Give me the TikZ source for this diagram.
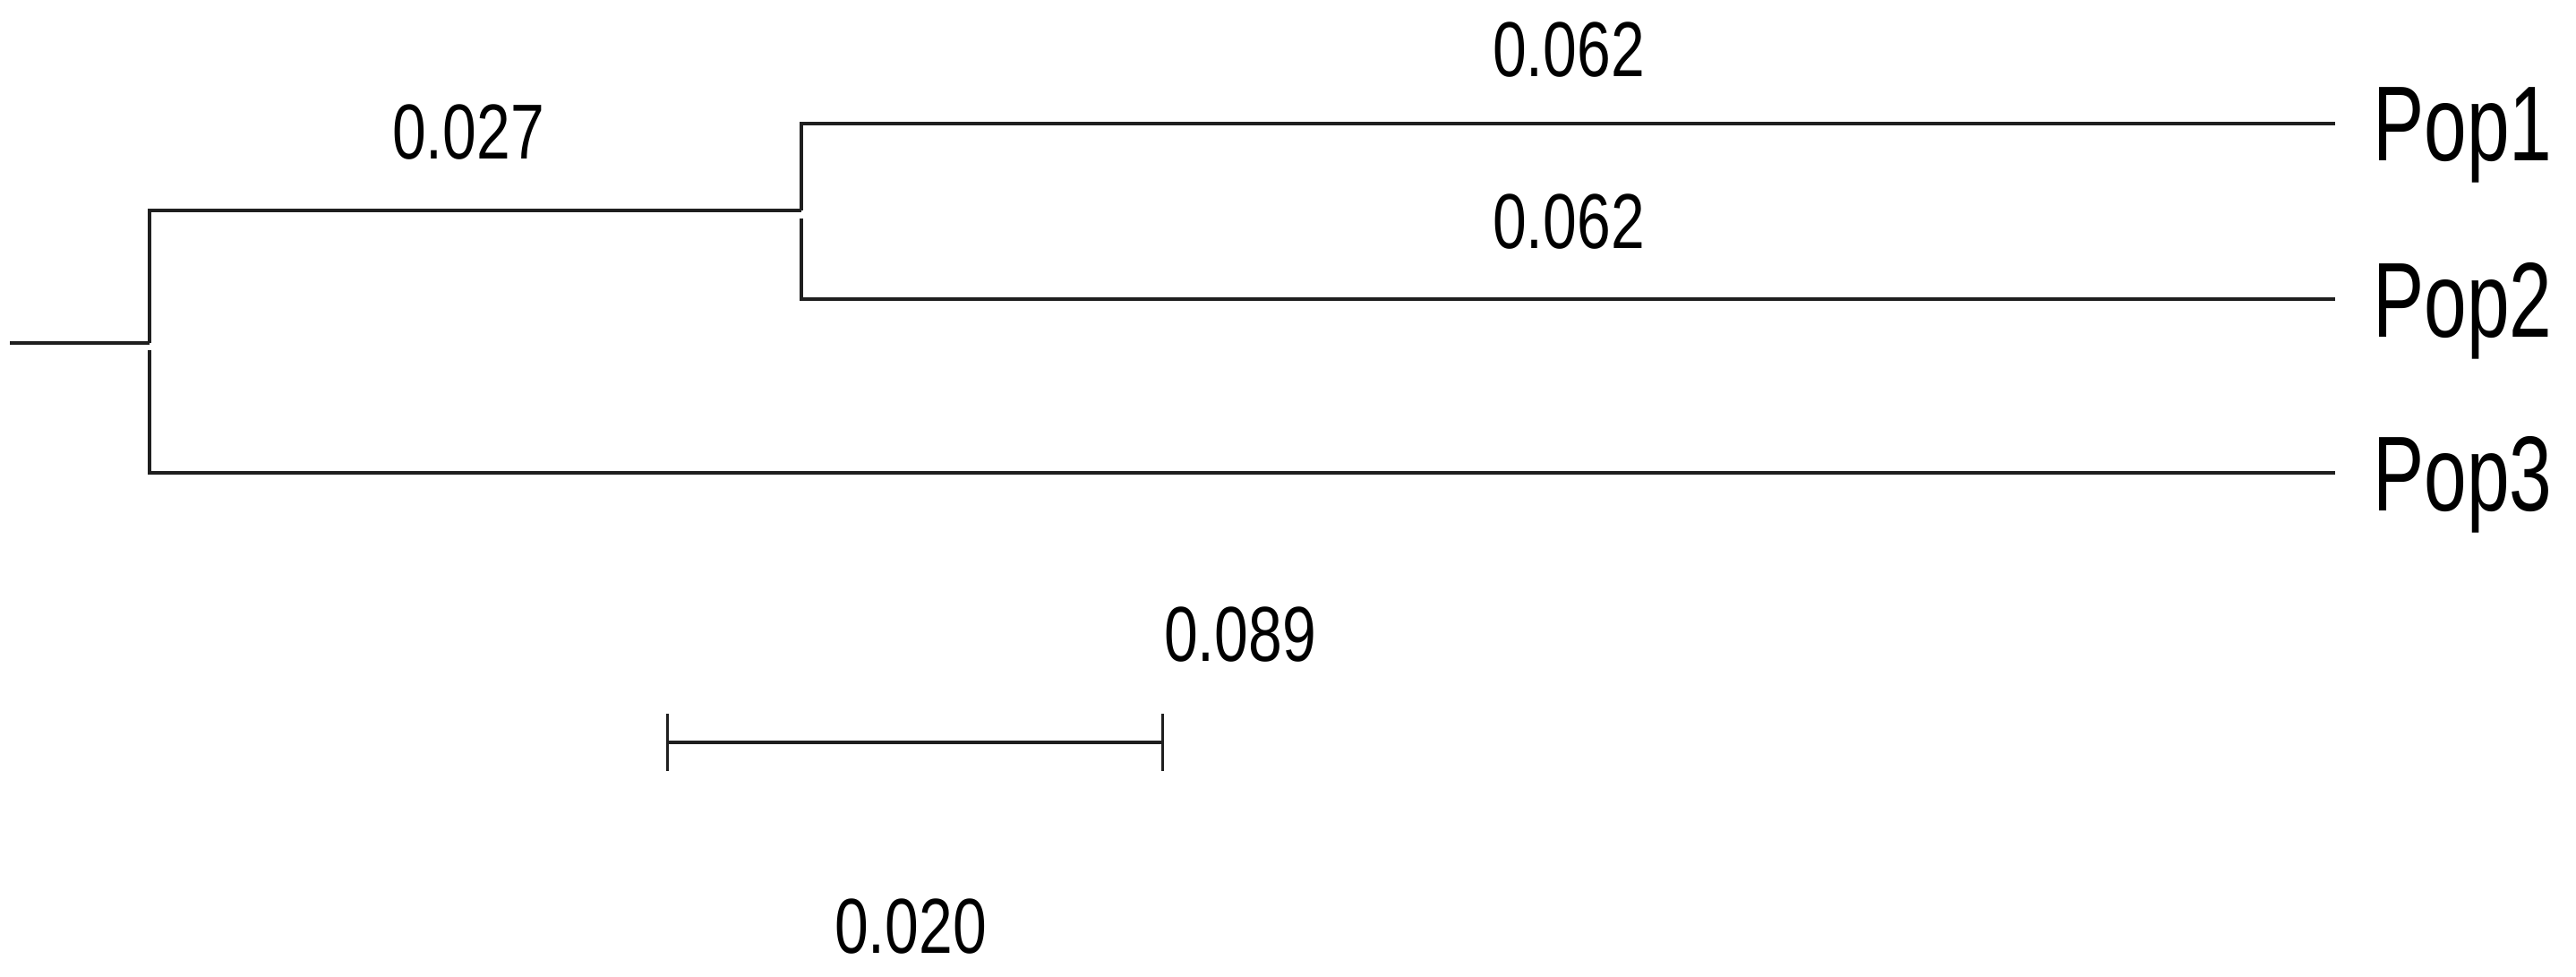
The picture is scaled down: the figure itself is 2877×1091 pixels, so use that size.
\documentclass[tikz,border=0pt]{standalone}
\usepackage{fontspec}
\newfontfamily\tipfont[FakeStretch=0.72]{Liberation Sans}
\newfontfamily\numfont[FakeStretch=0.78]{Liberation Sans}
\begin{document}
\begin{tikzpicture}[x=1pt,y=-1pt,
  branch/.style={line width=3.5pt,draw=black!88},
  tiplabel/.style={anchor=base west,inner sep=0pt,font=\tipfont\fontsize{119}{130}\selectfont},
  numlabel/.style={anchor=base,inner sep=0pt,font=\numfont\fontsize{87}{95}\selectfont}]
\useasboundingbox (0,0) rectangle (2877,1091);
% tree coordinates
\coordinate (stub) at (11,383);
\coordinate (r) at (167,383);
\coordinate (n1) at (895,235);
\coordinate (e1) at (2608,138);
\coordinate (e2) at (2608,334);
\coordinate (e3) at (2608,528);
% branches
\draw[branch] (stub) -- (r);
\draw[branch] (r) |- (n1);
\draw[branch] ([yshift=-8pt]r) |- (e3);
\draw[branch] (n1) |- (e1);
\draw[branch] ([yshift=-9pt]n1) |- (e2);
% tip labels
\node[tiplabel] (pop1) at (2650,180) {Pop1};
\node[tiplabel] (pop2) at (2650,376) {Pop2};
\node[tiplabel] (pop3) at (2650,570) {Pop3};
% branch length labels
\node[numlabel] (l027) at (523,178) {0.027};
\node[numlabel] (l062a) at (1752,86) {0.062};
\node[numlabel] (l062b) at (1752,278) {0.062};
\node[numlabel] (l089) at (1385,738) {0.089};
% scale bar
\coordinate (sb1) at (745,829);
\coordinate (sb2) at (1298,829);
\draw[branch] (sb1) -- (sb2);
\draw[branch,line width=3pt] ([yshift=32pt]sb1) -- ([yshift=-32pt]sb1);
\draw[branch,line width=3pt] ([yshift=32pt]sb2) -- ([yshift=-32pt]sb2);
\node[numlabel] (l020) at (1017,1064) {0.020};
\end{tikzpicture}
\end{document}
